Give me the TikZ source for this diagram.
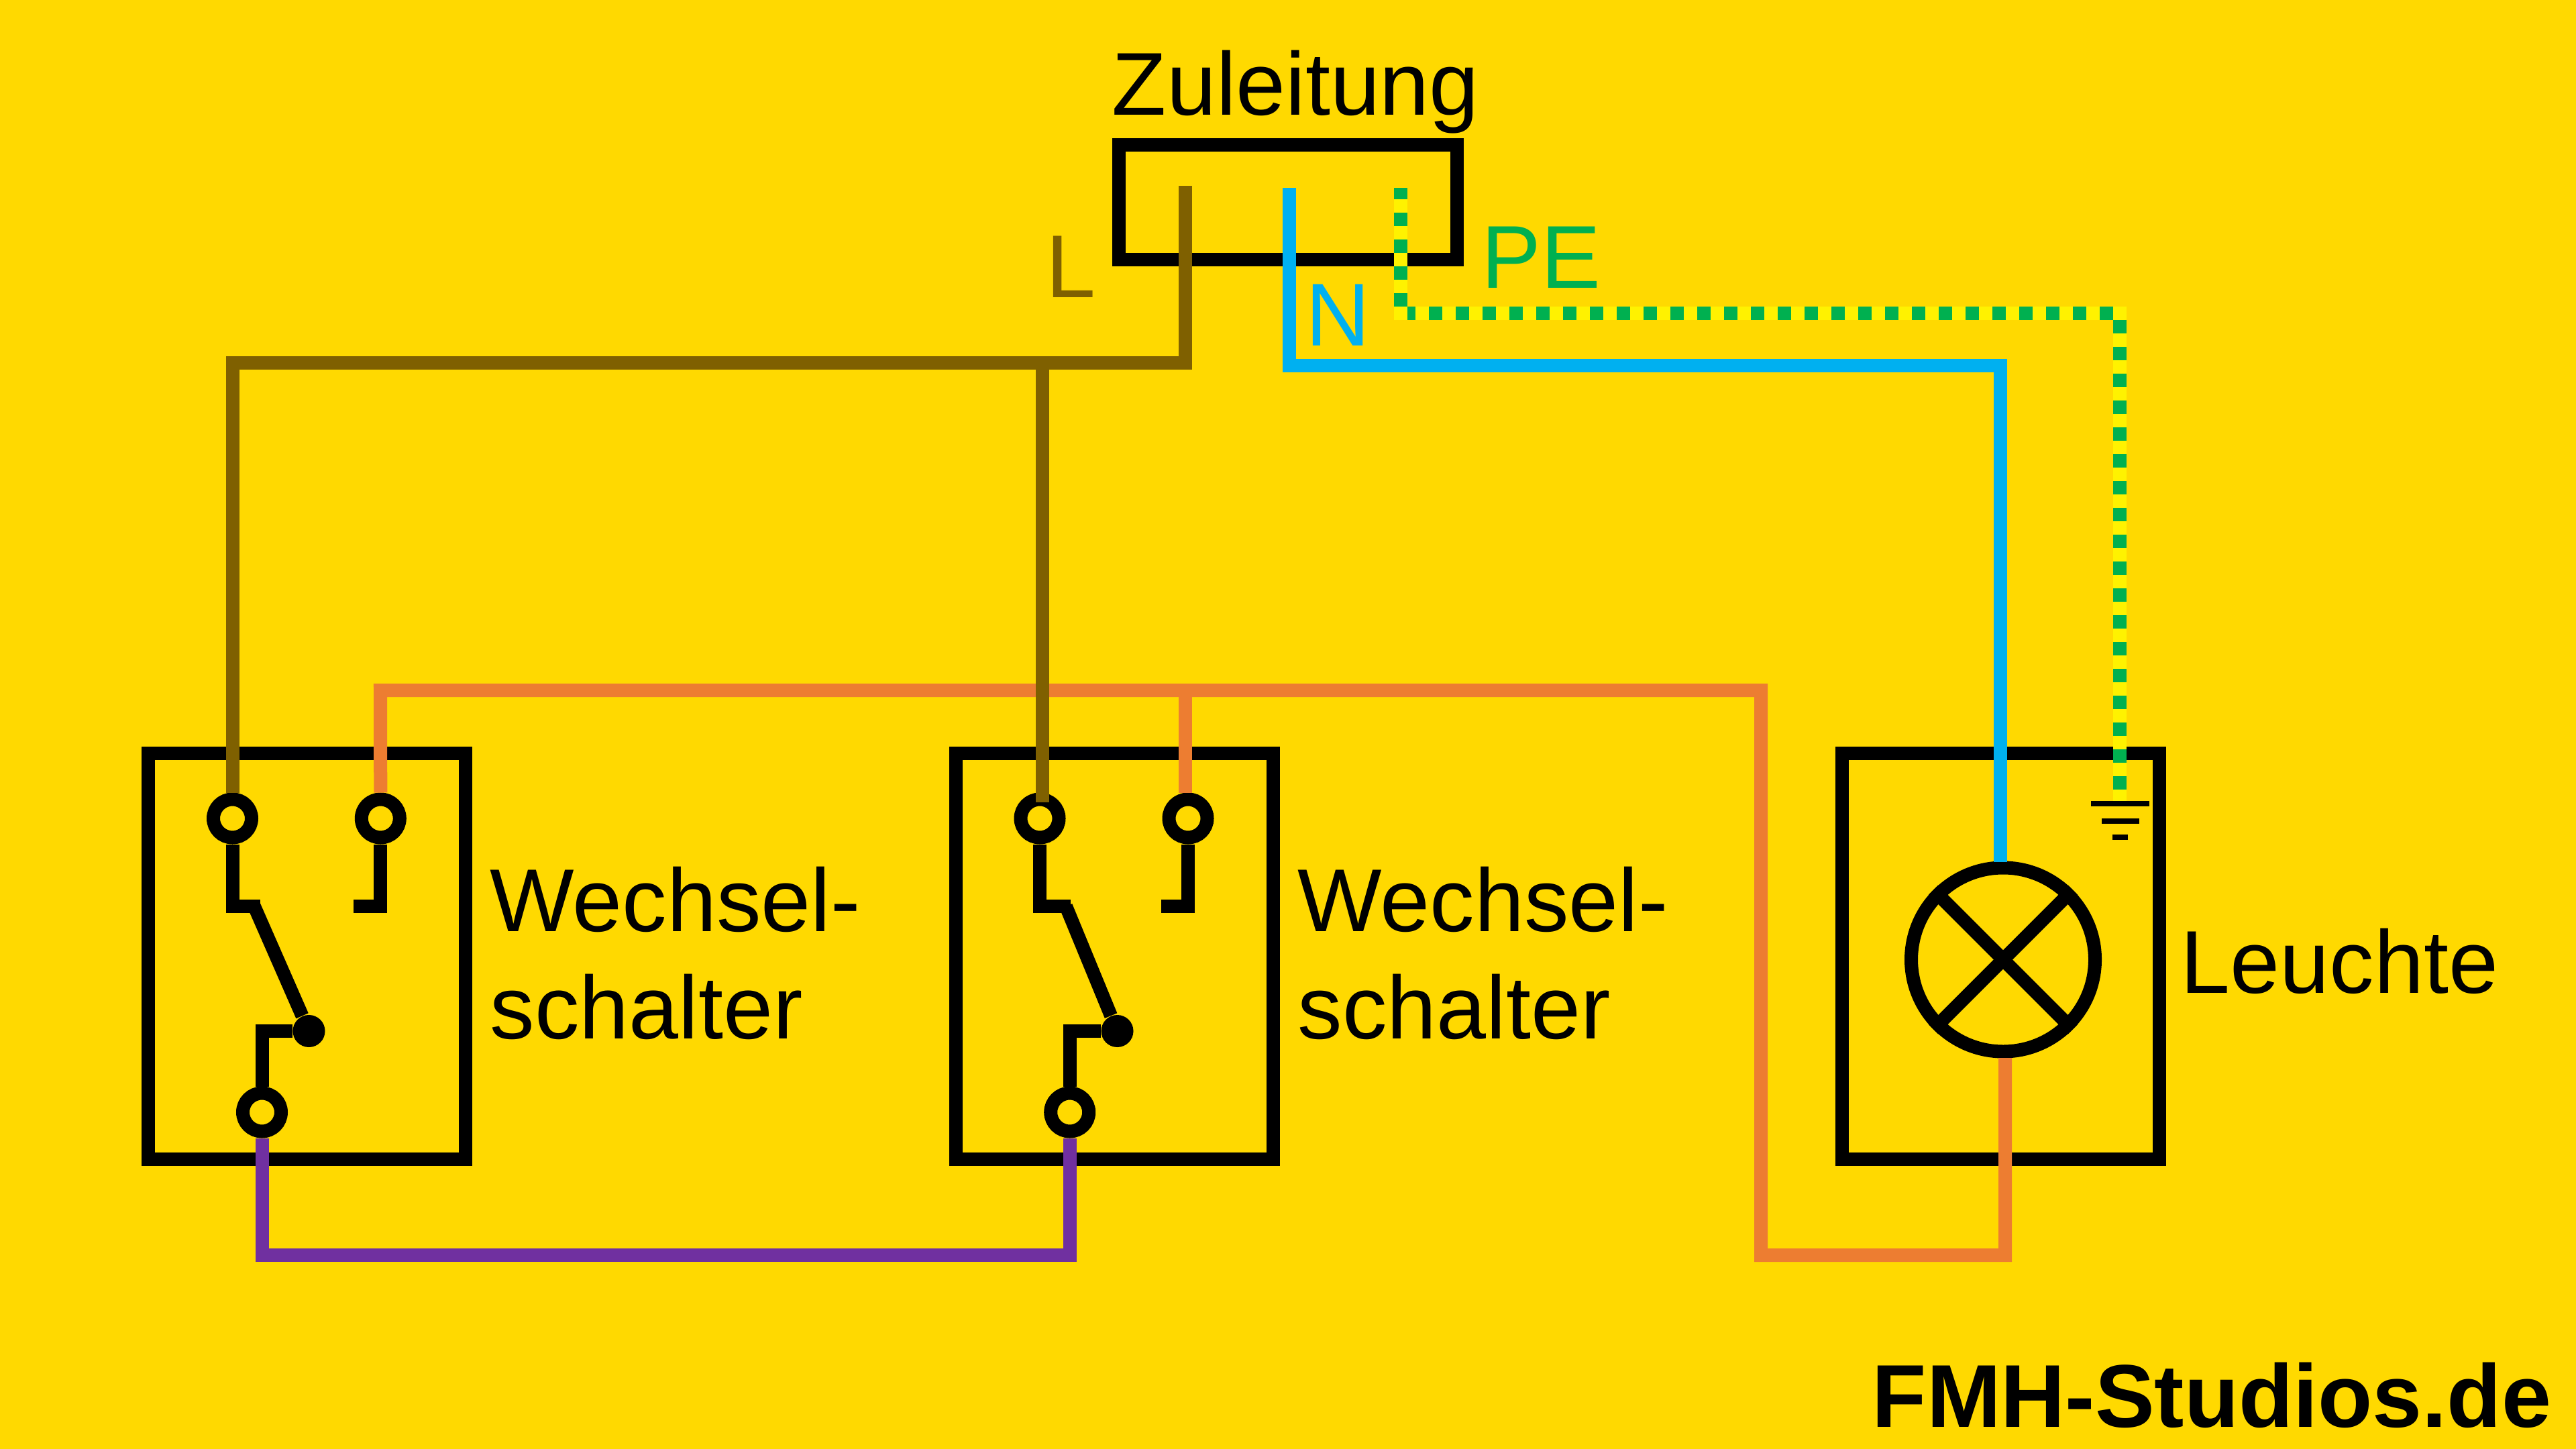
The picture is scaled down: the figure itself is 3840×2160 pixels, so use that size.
\documentclass[tikz,border=0pt]{standalone}
\usepackage{fontspec}
\setmainfont{Liberation Sans}
\definecolor{bgyellow}{HTML}{FFD900}
\definecolor{wireL}{HTML}{7F6000}
\definecolor{wireN}{HTML}{00B0F0}
\definecolor{wirePE}{HTML}{00B050}
\definecolor{wireS}{HTML}{ED7D31}
\definecolor{wireP}{HTML}{7030A0}
\tikzstyle{box}=[draw=black,line width=5pt,inner sep=0pt,minimum height=151.25pt,minimum width=118.3pt]
\tikzstyle{term}=[circle,draw=black,line width=5pt,inner sep=0pt,minimum size=14.25pt]
\tikzstyle{pivot}=[circle,fill=black,inner sep=0pt,minimum size=12pt]
\tikzstyle{lead}=[draw=black,line width=5pt]
\tikzstyle{wire}=[line width=5pt]
\tikzstyle{pegreen}=[draw=wirePE,line width=5pt,dash pattern=on 5pt off 5pt]
\tikzstyle{label}=[anchor=base west,inner sep=0pt,font=\fontsize{33.25}{40}\selectfont]
\begin{document}
\begin{tikzpicture}[x=0.25pt,y=-0.25pt]
    \useasboundingbox (0,0) rectangle (3840,2160);
    \fill[bgyellow] (0,0) rectangle (3840,2160);

    % boxes
    \node[box,minimum width=126pt,minimum height=42.75pt] (feed) at (1920,301.5) {};
    \node[box] (sw1) at (457.3,1425.5) {};
    \node[box] (sw2) at (1661.5,1425.5) {};
    \node[box] (lightbox) at (2982.5,1425.5) {};

    % first switch
    \node[term] (a1) at (346.5,1220) {};
    \node[term,right of=a1,node distance=55.2pt] (b1) {};
    \node[term] (c1) at (390.5,1658) {};
    \node[pivot] (d1) at (460.5,1537) {};
    \coordinate (a1k) at (388,1351);
    \coordinate (b1k) at (527,1351);
    \coordinate (arm1) at (379,1351);
    \draw[lead] (a1.south) |- (a1k);
    \draw[lead] (b1.south) |- (b1k);
    \draw[lead] (arm1) -- (d1);
    \draw[lead] (c1.north) |- (d1);

    % second switch
    \node[term] (a2) at (1550,1220) {};
    \node[term,right of=a2,node distance=55.25pt] (b2) {};
    \node[term] (c2) at (1594.7,1658) {};
    \node[pivot] (d2) at (1665.5,1537) {};
    \coordinate (a2k) at (1595.5,1351);
    \coordinate (b2k) at (1731,1351);
    \coordinate (arm2) at (1589,1351);
    \draw[lead] (a2.south) |- (a2k);
    \draw[lead] (b2.south) |- (b2k);
    \draw[lead] (arm2) -- (d2);
    \draw[lead] (c2.north) |- (d2);

    % lamp
    \node[term,minimum size=68.5pt] (lamp) at (2986,1430.5) {};
    \draw[lead] (lamp.north west) -- (lamp.south east);
    \draw[lead] (lamp.north east) -- (lamp.south west);

    % earth symbol
    \coordinate (gnd) at (3160,1194);
    \coordinate (g1l) at (3117,1198);
    \coordinate (g1r) at (3204,1198);
    \coordinate (g2l) at (3133,1224);
    \coordinate (g2r) at (3189,1224);
    \coordinate (g3l) at (3149,1248);
    \coordinate (g3r) at (3172,1248);
    \draw[black,line width=2pt] (g1l) -- (g1r) (g2l) -- (g2r) (g3l) -- (g3r);

    % wire coordinates
    \coordinate (Lt) at (1767,277);
    \coordinate (Lb) at (1767,541);
    \coordinate (Lj) at (1554,541);
    \coordinate (La2) at (1554,1196);
    \coordinate (Nt) at (1922,280);
    \coordinate (Nb) at (1922,545);
    \coordinate (Nc) at (2982,545);
    \coordinate (Ne) at (2982,1285);
    \coordinate (Stop) at (567,1029);
    \coordinate (Sj) at (1767,1029);
    \coordinate (Sb2) at (1767,1182);
    \coordinate (Sc) at (2625,1029);
    \coordinate (Sd) at (2625,1871);
    \coordinate (Se) at (2989,1871);
    \coordinate (Sl) at (2989,1577);
    \coordinate (Pb) at (1000,1871);

    % wires
    \draw[wire,wireS] (b1.north) -- (Stop) -- (Sc) -- (Sd) -- (Se) -- (Sl);
    \draw[wire,wireS] (Sj) -- (Sb2);
    \draw[wire,wireP] (c1.south) -- (c1.south |- Pb) -- (c2.south |- Pb) -- (c2.south);
    \draw[wire,wireL] (Lt) -- (Lb) -- (a1.north |- Lb) -- (a1.north);
    \draw[wire,wireL] (Lj) -- (La2);
    \draw[wire,wireN] (Nt) -- (Nb) -- (Nc) -- (Ne);

    % protective earth, yellow with green on top
    \coordinate (PEt) at (2088,280);
    \coordinate (PEv) at (2088,457);
    \coordinate (PEe) at (2088,477);
    \coordinate (PEa) at (2088,467);
    \coordinate (PEg) at (2090,467);
    \coordinate (PEh) at (3150,467);
    \coordinate (PEb) at (3160,467);
    \coordinate (PEc) at (3160,457);
    \coordinate (PEd) at (3160,477);
    \draw[wire,yellow] (PEa) -- (PEb);
    \draw[pegreen] (PEg) -- (PEh);
    \draw[wire,yellow] (PEt) -- (PEe);
    \draw[pegreen,dash phase=0.75pt] (PEt) -- (PEv);
    \draw[wire,yellow] (PEc) -- (gnd);
    \draw[pegreen] (PEd) -- (gnd);

    % labels
    \node[label] (zul) at (1657,172) {Zuleitung};
    \node[label,text=wireL] (labL) at (1559,444) {L};
    \node[label,text=wireN] (labN) at (1946,516) {N};
    \node[label,text=wirePE] (labPE) at (2208,430) {PE};
    \node[label,align=left] (lab1) at (730,1548) {Wechsel-\\schalter};
    \node[label,align=left] (lab2) at (1934,1548) {Wechsel-\\schalter};
    \node[label] (lab3) at (3250,1480) {Leuchte};
    \node[label,font=\fontsize{33.25}{40}\selectfont\bfseries] (fmh) at (2790,2127) {FMH-Studios.de};
\end{tikzpicture}
\end{document}
